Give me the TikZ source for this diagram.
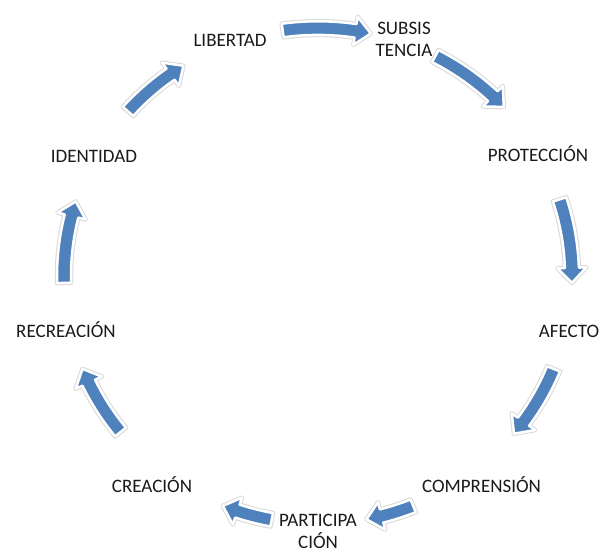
\documentclass[tikz,border=0pt]{standalone}
\usepackage{fontspec}
\setmainfont{Carlito}
\definecolor{arrowblue}{RGB}{79,129,189}
\newcommand\cycarrow[2]{%
  \pgfmathsetmacro\hb{#2+3.5}%
  \path[cyc] (#1:261) arc[start angle=#1, end angle=\hb, radius=261]
    -- (\hb:268.5) -- (#2:254) -- (\hb:239.5) -- (\hb:247)
    arc[start angle=\hb, end angle=#1, radius=247] -- cycle;}
\begin{document}
\begin{tikzpicture}[x=1pt,y=1pt,
  lbl/.style={inner sep=0pt, font=\fontsize{19}{22}\selectfont, text=black!90, anchor=base},
  lbl2/.style={inner sep=0pt, font=\fontsize{19}{22}\selectfont, text=black!90, align=center, anchor=center},
  cyc/.style={fill=arrowblue, draw=white, line width=2.5pt, line join=round,
    preaction={draw=black!15, line width=4.5pt, line join=round}}]
\useasboundingbox[fill=white] (0,0) rectangle (601,550);

\begin{scope}[shift={(318,274)}, yscale=0.976]
  \cycarrow{98}{78}
  \cycarrow{62.5}{43}
  \cycarrow{18}{-1.6}
  \cycarrow{-22}{-39.5}
  \cycarrow{-68}{-79}
  \cycarrow{-100.5}{-112}
  \cycarrow{219}{202}
  \cycarrow{181.6}{162.5}
  \cycarrow{138.4}{122}
\end{scope}

\node[lbl] (libertad) at (230,503.8) {LIBERTAD};
\node[lbl2] (subsistencia) at (404,510.5) {SUBSIS\\TENCIA};
\node[lbl] (proteccion) at (538,388.8) {PROTECCIÓN};
\node[lbl] (afecto) at (569,212.8) {AFECTO};
\node[lbl] (comprension) at (481.5,57.8) {COMPRENSIÓN};
\node[lbl2] (participacion) at (318,18.5) {PARTICIPA\\CIÓN};
\node[lbl] (creacion) at (152,57.8) {CREACIÓN};
\node[lbl] (recreacion) at (66,212.8) {RECREACIÓN};
\node[lbl] (identidad) at (94,387.8) {IDENTIDAD};
\end{tikzpicture}
\end{document}
